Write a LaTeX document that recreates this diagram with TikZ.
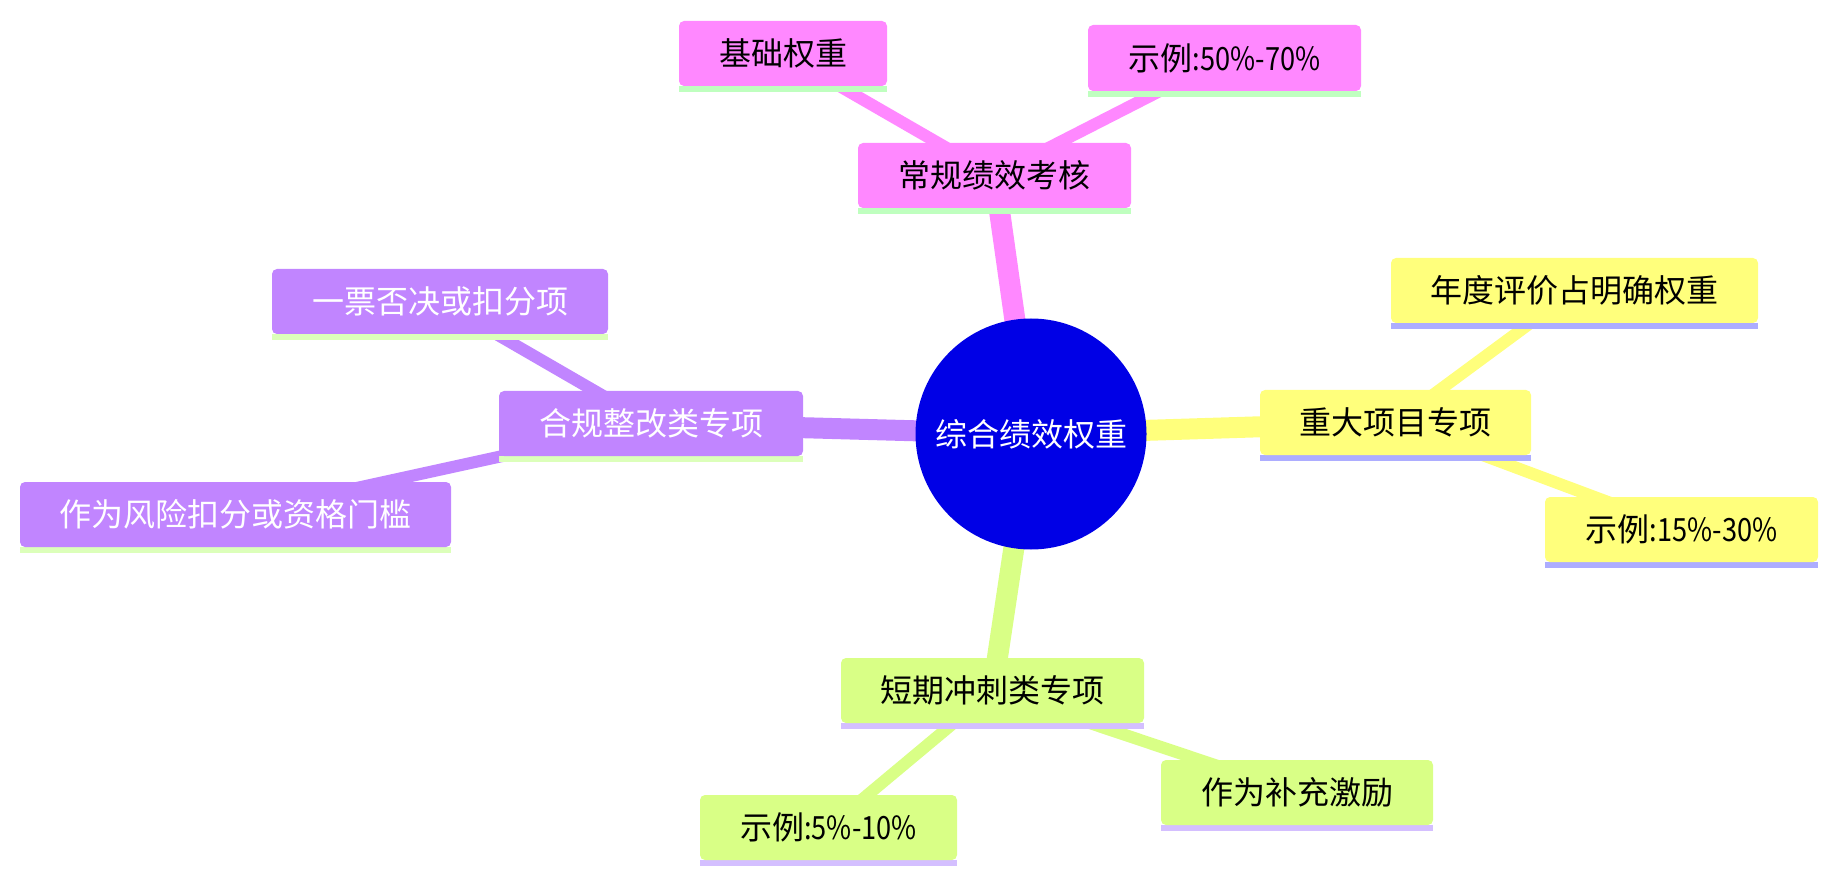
\documentclass[tikz,border=0pt]{standalone}
\usepackage{fontspec}
\setmainfont{Noto Sans CJK SC}
\newfontfamily\narrowlat[FakeStretch=0.85]{Noto Sans CJK SC}
\usetikzlibrary{backgrounds}
\definecolor{pinkN}{HTML}{FF88FF}
\definecolor{pinkB}{HTML}{BFFFBF}
\definecolor{yelN}{HTML}{FFFF7C}
\definecolor{yelB}{HTML}{ADADFF}
\definecolor{purN}{HTML}{C185FF}
\definecolor{purB}{HTML}{DCFFBA}
\definecolor{grnN}{HTML}{D9FF86}
\definecolor{grnB}{HTML}{D4BFFF}
\definecolor{rootC}{HTML}{0000E6}
\begin{document}
\begin{tikzpicture}[x=1pt,y=-1pt,
  box/.style={rectangle, rounded corners=5pt, minimum height=65pt, inner sep=0pt,
    font=\fontsize{32}{38}\selectfont, text=black},
  bar/.style={append after command={\pgfextra{\fill[#1] (\tikzlastnode.south west) rectangle ([yshift=-5.5pt]\tikzlastnode.south east);}}},
  pinkbox/.style={box, fill=pinkN, bar=pinkB},
  yelbox/.style={box, fill=yelN, bar=yelB},
  purbox/.style={box, fill=purN, bar=purB, text=white},
  grnbox/.style={box, fill=grnN, bar=grnB},
  rootnode/.style={circle, fill=rootC, minimum size=231pt, inner sep=0pt, text=white,
    font=\fontsize{32}{38}\selectfont},
  eone/.style={line width=21pt},
  etwo/.style={line width=12pt}]
\useasboundingbox (0,0) rectangle (1837,882);

\node[rootnode] (root) at (1031,434) {综合绩效权重};

\node[pinkbox, minimum width=273pt] (cg) at (994.5,175.5) {常规绩效考核};
\node[pinkbox, minimum width=208pt] (jc) at (783,53.5) {基础权重};
\node[pinkbox, minimum width=273pt, minimum height=66pt] (sla) at (1224.5,58) {示例{\narrowlat :50\%-70\%}};

\node[yelbox, minimum width=271pt] (zd) at (1395.5,422.5) {重大项目专项};
\node[yelbox, minimum width=367pt] (nd) at (1574.5,290.5) {年度评价占明确权重};
\node[yelbox, minimum width=273pt] (slb) at (1681.5,529.5) {示例{\narrowlat :15\%-30\%}};

\node[purbox, minimum width=304pt] (hg) at (651,423.5) {合规整改类专项};
\node[purbox, minimum width=336pt] (yp) at (440,301.5) {一票否决或扣分项};
\node[purbox, minimum width=431pt] (zw) at (235.5,514.5) {作为风险扣分或资格门槛};

\node[grnbox, minimum width=303pt] (dq) at (992.5,690.5) {短期冲刺类专项};
\node[grnbox, minimum width=257pt] (slc) at (828.5,827.5) {示例{\narrowlat :5\%-10\%}};
\node[grnbox, minimum width=272pt] (bc) at (1297,792.5) {作为补充激励};

\begin{scope}[on background layer]
  \draw[eone, pinkN] (root.center) -- (cg.center);
  \draw[etwo, pinkN] (cg.center) -- (jc.center);
  \draw[etwo, pinkN] (cg.center) -- (sla.center);
  \draw[eone, yelN] (root.center) -- (zd.center);
  \draw[etwo, yelN] (zd.center) -- (nd.center);
  \draw[etwo, yelN] (zd.center) -- (slb.center);
  \draw[eone, purN] (root.center) -- (hg.center);
  \draw[etwo, purN] (hg.center) -- (yp.center);
  \draw[etwo, purN] (hg.center) -- (zw.center);
  \draw[eone, grnN] (root.center) -- (dq.center);
  \draw[etwo, grnN] (dq.center) -- (slc.center);
  \draw[etwo, grnN] (dq.center) -- (bc.center);
\end{scope}
\end{tikzpicture}
\end{document}
